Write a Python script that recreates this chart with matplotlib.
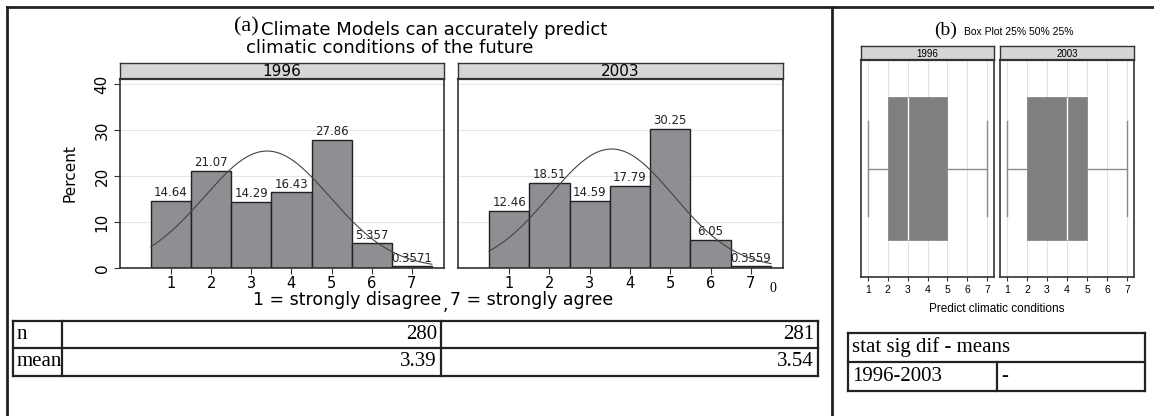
import numpy as np
import matplotlib.pyplot as plt

# survey responses, % of respondents per agreement level
years = ['1996', '2003']
levels = [1, 2, 3, 4, 5, 6, 7]
pct_1996 = [14.64, 21.07, 14.29, 16.43, 27.86, 5.357, 0.3571]
pct_2003 = [12.46, 18.51, 14.59, 17.79, 30.25, 6.05, 0.3559]
n_resp = [280, 281]
mean_resp = [3.39, 3.54]

# quartile summary per year: low whisker, q1, median, q3, high whisker
box_1996 = [1, 2, 3, 5, 7]
box_2003 = [1, 2, 4, 5, 7]
sig_label = ['1996-2003', '-']

W, H = 1154, 416
BAR = '#8e8f93'
STRIP = '#d6d6d6'
SERIF = 'Liberation Serif'
SANS = 'DejaVu Sans'
NARROW = ['Liberation Sans Narrow', 'Liberation Sans']


def px(x0, y0, x1, y1):
    return [x0 / W, 1 - y1 / H, (x1 - x0) / W, (y1 - y0) / H]


def strip(fig, x0, y0, x1, y1, label, size, family):
    s = fig.add_axes(px(x0, y0, x1, y1))
    s.set_facecolor(STRIP)
    s.set_xticks([])
    s.set_yticks([])
    for sp in s.spines.values():
        sp.set_color('#333333')
        sp.set_linewidth(1.0)
    s.spines['bottom'].set_linewidth(1.6)
    s.text(0.5, 0.45, label, ha='center', va='center', fontsize=size,
           family=family, transform=s.transAxes)


fig = plt.figure(figsize=(W / 100, H / 100), dpi=100)

# pixel-space layer for frames and tables
ov = fig.add_axes([0, 0, 1, 1])
ov.set_xlim(0, W)
ov.set_ylim(H, 0)
ov.axis('off')
lw_frame = 2.0
ov.plot([7, W], [7, 7], color='#222222', lw=lw_frame)
ov.plot([7, 7], [7, H], color='#222222', lw=lw_frame)
ov.plot([832, 832], [7, H], color='#222222', lw=lw_frame)

# ---- (a) histograms ----
hist_boxes = [(120, 444), (458, 783)]
for (x0, x1), yr, pct in zip(hist_boxes, years, [pct_1996, pct_2003]):
    ax = fig.add_axes(px(x0, 79, x1, 268))
    ax.bar(levels, pct, width=1.0, color=BAR, edgecolor='#222222', linewidth=1.0, zorder=2)
    for lv, p in zip(levels, pct):
        ax.text(lv, p + 0.4, '%.4g' % p, ha='center', va='bottom', fontsize=8.5,
                family=SANS, color='#222222', zorder=3)
    # normal curve with the sample mean and sd
    w = np.array(pct) / 100
    m = np.sum(w * np.array(levels))
    sd = np.sqrt(np.sum(w * (np.array(levels) - m) ** 2))
    xs = np.linspace(0.5, 7.5, 200)
    ax.plot(xs, 100 / (sd * np.sqrt(2 * np.pi)) * np.exp(-0.5 * ((xs - m) / sd) ** 2),
            color='#444444', lw=0.8, zorder=4)
    ax.set_xlim(-0.27, 7.8)
    ax.set_ylim(0, 41.1)
    ax.set_yticks([0, 10, 20, 30, 40])
    ax.grid(axis='y', color='#e6e6e6', lw=0.8, zorder=0)
    ax.set_xticks(levels)
    ax.tick_params(axis='x', labelsize=10.5, length=4, pad=2, color='#333333')
    for sp in ax.spines.values():
        sp.set_color('#333333')
        sp.set_linewidth(1.2)
    if yr == '1996':
        ax.tick_params(axis='y', labelsize=11, length=4, color='#333333')
        for t in ax.get_yticklabels():
            t.set_rotation(90)
            t.set_va('center')
        ax.set_ylabel('Percent', fontsize=11, family=SANS, labelpad=12)
    else:
        ax.tick_params(axis='y', left=False, labelleft=False)
    strip(fig, x0, 63, x1, 79, yr, 11, SANS)

fig.text(259 / W, 1 - 27 / H, '(a)', fontsize=16, family=SERIF, va='center', ha='right')
fig.text(261 / W, 1 - 30 / H, 'Climate Models can accurately predict', fontsize=13,
         family=SANS, ha='left', va='center')
fig.text(246 / W, 1 - 48 / H, 'climatic conditions of the future', fontsize=13,
         family=SANS, ha='left', va='center')
fig.text(441 / W, 1 - 300 / H, '1 = strongly disagree', fontsize=12.5, family=SANS,
         ha='right', va='center')
fig.text(445 / W, 1 - 305 / H, ',', fontsize=12.5, family=SANS, ha='center', va='center')
fig.text(450 / W, 1 - 300 / H, '7 = strongly agree', fontsize=12.5, family=SANS,
         ha='left', va='center')
fig.text(773 / W, 1 - 289 / H, '0', fontsize=10, family=SERIF, ha='center', va='center')

# table under (a)
tx = [13, 62, 441, 818]
ty = [321, 348, 376]
for y in ty:
    ov.plot([tx[0], tx[-1]], [y, y], color='#222222', lw=1.6)
for x in tx:
    ov.plot([x, x], [ty[0], ty[-1]], color='#222222', lw=1.6)
rows = [('n', [str(v) for v in n_resp]), ('mean', ['%.2f' % v for v in mean_resp])]
for (name, vals), y0, y1 in zip(rows, ty[:-1], ty[1:]):
    yc = (y0 + y1) / 2
    ov.text(tx[0] + 4, yc, name, fontsize=15, family=SERIF, va='center', ha='left')
    ov.text(tx[2] - 4, yc, vals[0], fontsize=15, family=SERIF, va='center', ha='right')
    ov.text(tx[3] - 4, yc, vals[1], fontsize=15, family=SERIF, va='center', ha='right')

# ---- (b) box plots ----
box_axes = [(861, 994), (1000, 1134)]
for (x0, x1), yr, q in zip(box_axes, years, [box_1996, box_2003]):
    ax = fig.add_axes(px(x0, 60, x1, 277))
    stats = [dict(whislo=q[0], q1=q[1], med=q[2], q3=q[3], whishi=q[4], fliers=[])]
    ax.bxp(stats, positions=[1], widths=0.66, orientation='horizontal', patch_artist=True,
           showfliers=False, capwidths=0.44,
           boxprops=dict(facecolor='#7f7f7f', edgecolor='#7f7f7f', linewidth=0.5),
           medianprops=dict(color='white', linewidth=1.0),
           whiskerprops=dict(color='#8a8a8a', linewidth=1.0),
           capprops=dict(color='#8a8a8a', linewidth=1.0))
    ax.set_ylim(0.5, 1.5)
    ax.set_xlim(0.65, 7.35)
    ax.set_xticks(levels)
    ax.set_yticks([])
    ax.grid(axis='x', color='#e2e2e2', lw=0.8)
    ax.set_axisbelow(True)
    ax.tick_params(axis='x', labelsize=7.5, length=3, color='#333333', pad=3)
    for t in ax.get_xticklabels():
        t.set_family(NARROW)
    for sp in ax.spines.values():
        sp.set_color('#333333')
        sp.set_linewidth(1.2)
    strip(fig, x0, 46, x1, 60, yr, 7, NARROW)

fig.text(946 / W, 1 - 30 / H, '(b)', fontsize=14, family=SERIF, ha='center', va='center')
fig.text(964 / W, 1 - 32 / H, 'Box Plot 25% 50% 25%', fontsize=7.5, family=NARROW,
         ha='left', va='center')
fig.text(997 / W, 1 - 309 / H, 'Predict climatic conditions', fontsize=8.5,
         family=NARROW, ha='center', va='center')

# significance table under (b)
bx = [848, 997, 1145]
by = [333, 362, 391]
for y in by:
    ov.plot([bx[0], bx[-1]], [y, y], color='#222222', lw=1.6)
ov.plot([bx[0], bx[0]], [by[0], by[-1]], color='#222222', lw=1.6)
ov.plot([bx[-1], bx[-1]], [by[0], by[-1]], color='#222222', lw=1.6)
ov.plot([bx[1], bx[1]], [by[1], by[2]], color='#222222', lw=1.6)
ov.text(bx[0] + 4, (by[0] + by[1]) / 2, 'stat sig dif - means', fontsize=15, family=SERIF,
        va='center', ha='left')
ov.text(bx[0] + 4, (by[1] + by[2]) / 2, sig_label[0], fontsize=15, family=SERIF,
        va='center', ha='left')
ov.text(bx[1] + 4, (by[1] + by[2]) / 2, sig_label[1], fontsize=15, family=SERIF,
        va='center', ha='left')

fig.savefig('out.png', dpi=100)
